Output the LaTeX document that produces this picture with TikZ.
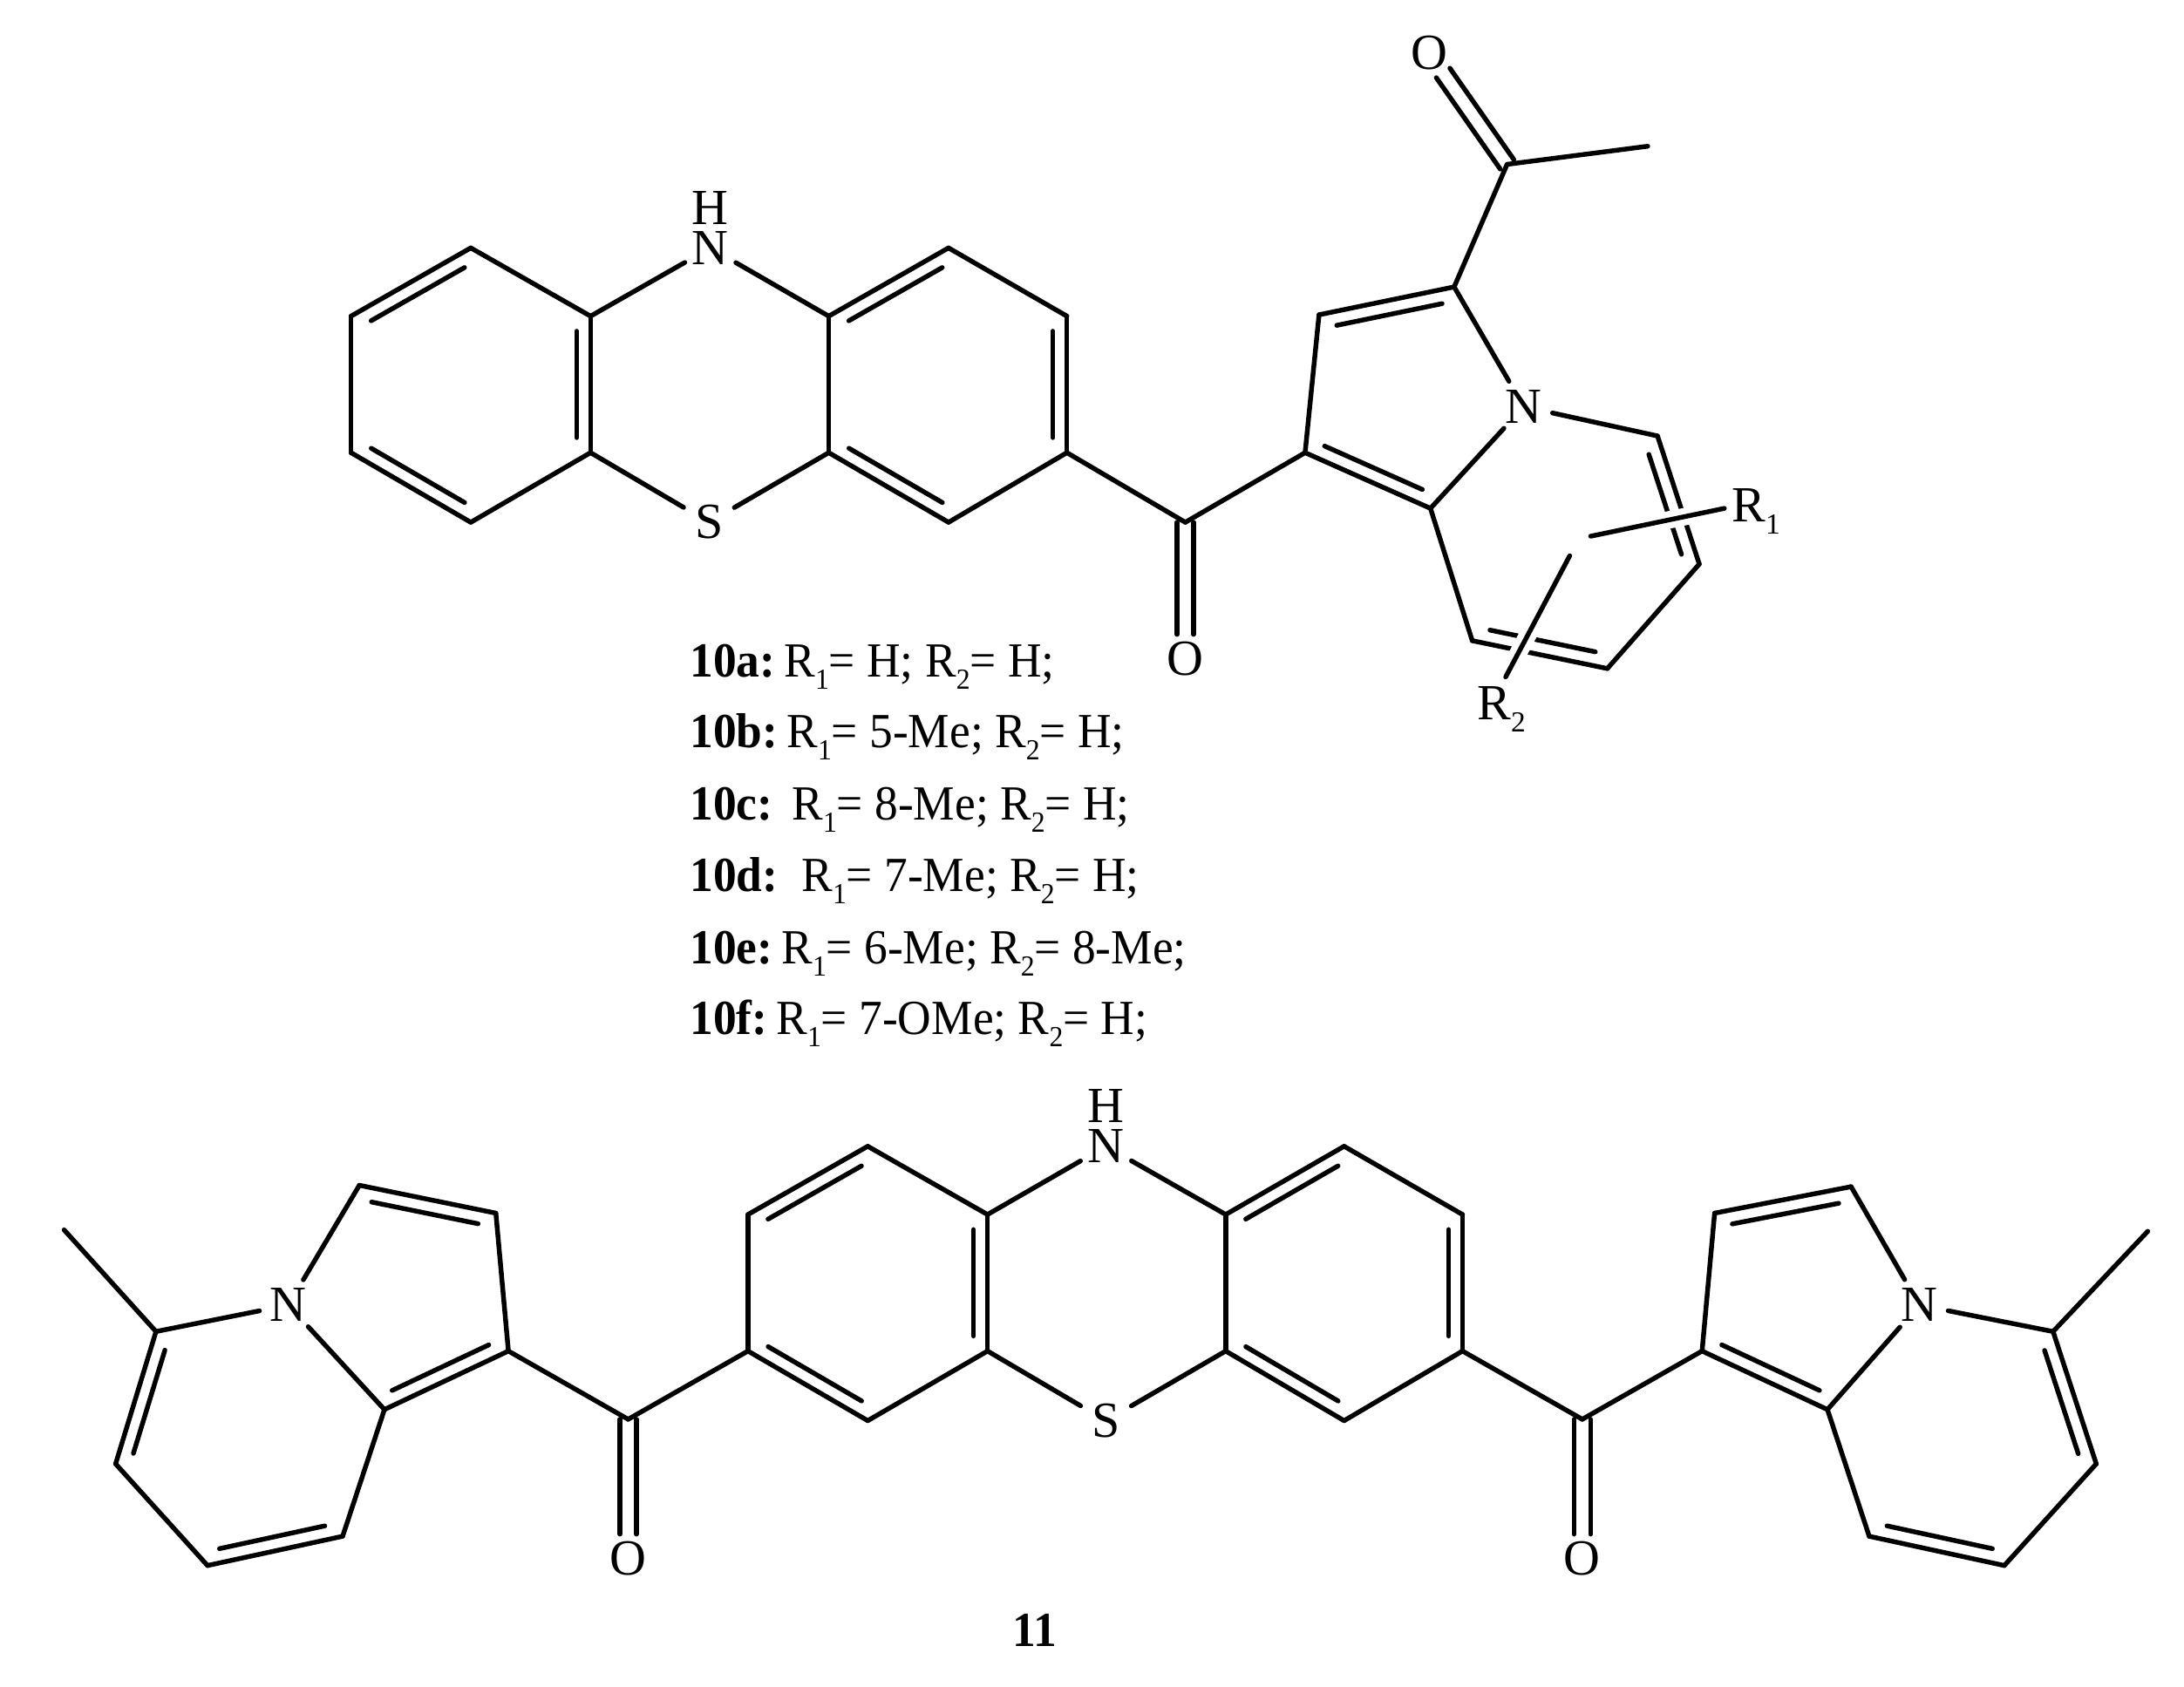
\documentclass[tikz,border=0pt]{standalone}
\usepackage{fontspec}
\setmainfont{Liberation Serif}[FakeStretch=0.95]
\newfontfamily\atomfont{Liberation Serif}
\usetikzlibrary{calc}
\tikzset{
  bond/.style={line width=1.55pt,line cap=round,line join=round,black},
  atom/.style={circle,inner sep=0pt,minimum size=0.66cm,font=\atomfont\fontsize{16.5}{19}\selectfont},
  plain/.style={inner sep=0pt,font=\atomfont\fontsize{16.5}{19}\selectfont},
  entry/.style={anchor=base west,inner sep=0pt,font=\fontsize{16}{19}\selectfont},
}
\newcommand{\rsub}[1]{\raisebox{-0.14cm}{\fontsize{9.5}{11}\selectfont #1}}
\newcommand{\sbond}[2]{\draw[bond] (#1) -- (#2);}
\newcommand{\dbond}[2]{\draw[bond] (#1) -- (#2);
  \draw[bond] ($(#1)!.11!(#2)!0.16cm!-90:(#2)$) -- ($(#2)!.11!(#1)!0.16cm!90:(#1)$);}
\newcommand{\cobond}[2]{%
  \draw[bond,shorten >=0.28cm] ($(#1)!0.095cm!90:(#2)$) -- ($(#2)!0.095cm!-90:(#1)$);
  \draw[bond,shorten >=0.28cm] ($(#1)!0.095cm!-90:(#2)$) -- ($(#2)!0.095cm!90:(#1)$);}
\begin{document}
\begin{tikzpicture}[x=0.015976cm,y=-0.015976cm]
\useasboundingbox (0,0) rectangle (1568,1210.6);
% ---- top phenothiazine
\coordinate (a1) at (338,178);\coordinate (a2) at (424,227);\coordinate (a3) at (424,325);
\coordinate (a4) at (338,375);\coordinate (a5) at (252,325);\coordinate (a6) at (252,227);
\coordinate (b1) at (595,227);\coordinate (b2) at (681,178);\coordinate (b3) at (766,227);
\coordinate (b4) at (766,325);\coordinate (b5) at (681,375);\coordinate (b6) at (595,325);
\node[atom] (NT) at (510,178) {N};
\node[plain] (HT) at (510,149) {H};
\node[atom] (ST) at (509,375) {S};
\dbond{a6}{a1}\sbond{a1}{a2}\dbond{a2}{a3}\sbond{a3}{a4}\dbond{a4}{a5}\sbond{a5}{a6}
\dbond{b1}{b2}\sbond{b2}{b3}\dbond{b3}{b4}\sbond{b4}{b5}\dbond{b5}{b6}\sbond{b6}{b1}
\sbond{a2}{NT}\sbond{NT}{b1}\sbond{a3}{ST}\sbond{ST}{b6}
% carbonyl and indolizine
\coordinate (c0) at (851,375);
\node[atom] (OT) at (851,473) {O};
\cobond{c0}{OT}
\coordinate (p1) at (947,226);\coordinate (p2) at (1044,206);\coordinate (p4) at (1027,365);\coordinate (p5) at (937,325);
\node[atom] (NP) at (1094,292) {N};
\coordinate (q1) at (1190,313);\coordinate (q2) at (1220,405);\coordinate (q3) at (1154,480);\coordinate (q4) at (1057,460);
\sbond{b4}{c0}\sbond{c0}{p5}
\dbond{p1}{p2}\sbond{p2}{NP}\sbond{NP}{p4}\dbond{p4}{p5}\sbond{p5}{p1}
\sbond{NP}{q1}\dbond{q1}{q2}\sbond{q2}{q3}\dbond{q3}{q4}\sbond{q4}{p4}
% acetyl
\coordinate (k0) at (1082,118);\coordinate (k2) at (1183,105);
\node[atom] (OK) at (1026,38) {O};
\sbond{p2}{k0}\sbond{k0}{k2}\cobond{k0}{OK}
% substituents
\node[plain,anchor=west] (R1) at (1243,367) {R\rsub{1}};
\node[plain] (R2) at (1078,509) {R\rsub{2}};
\coordinate (r1) at (1142,385);\coordinate (r1e) at (1238,365);
\coordinate (r2) at (1127,399);\coordinate (r2e) at (1081,486);
\draw[white,line width=0.2cm] (r1) -- (r1e);
\draw[white,line width=0.2cm] (r2) -- (r2e);
\sbond{r1}{r1e}\sbond{r2}{r2e}
% ---- list
\node[entry] (l1) at (495,486) {\textbf{10a:}\hspace{0.1cm}R\rsub{1}= H; R\rsub{2}= H;};
\node[entry] (l2) at (495,537) {\textbf{10b:}\hspace{0.1cm}R\rsub{1}= 5-Me; R\rsub{2}= H;};
\node[entry] (l3) at (495,589) {\textbf{10c:}\hspace{0.22cm}R\rsub{1}= 8-Me; R\rsub{2}= H;};
\node[entry] (l4) at (495,640) {\textbf{10d:}\hspace{0.27cm}R\rsub{1}= 7-Me; R\rsub{2}= H;};
\node[entry] (l5) at (495,692) {\textbf{10e:}\hspace{0.1cm}R\rsub{1}= 6-Me; R\rsub{2}= 8-Me;};
\node[entry] (l6) at (495,743) {\textbf{10f:}\hspace{0.1cm}R\rsub{1}= 7-OMe; R\rsub{2}= H;};
% ---- bottom phenothiazine
\coordinate (d1) at (623,823);\coordinate (d2) at (709,872);\coordinate (d3) at (709,970);
\coordinate (d4) at (623,1020);\coordinate (d5) at (537,970);\coordinate (d6) at (537,872);
\coordinate (e1) at (880,872);\coordinate (e2) at (965,823);\coordinate (e3) at (1050,872);
\coordinate (e4) at (1050,970);\coordinate (e5) at (965,1020);\coordinate (e6) at (880,970);
\node[atom] (NB) at (794,823) {N};
\node[plain] (HB) at (794,794) {H};
\node[atom] (SB) at (794,1020) {S};
\dbond{d6}{d1}\sbond{d1}{d2}\dbond{d2}{d3}\sbond{d3}{d4}\dbond{d4}{d5}\sbond{d5}{d6}
\dbond{e1}{e2}\sbond{e2}{e3}\dbond{e3}{e4}\sbond{e4}{e5}\dbond{e5}{e6}\sbond{e6}{e1}
\sbond{d2}{NB}\sbond{NB}{e1}\sbond{d3}{SB}\sbond{SB}{e6}
% left carbonyl
\coordinate (f0) at (451,1019);
\node[atom] (OL) at (451,1119) {O};
\cobond{f0}{OL}\sbond{d5}{f0}
% left indolizine
\node[atom] (NL) at (207,937) {N};
\coordinate (g1) at (258,851);\coordinate (g2) at (356,871);\coordinate (g3) at (365,970);\coordinate (g4) at (276,1012);
\coordinate (h1) at (246,1103);\coordinate (h2) at (149,1124);\coordinate (h3) at (83,1051);\coordinate (h4) at (112,956);
\coordinate (h5) at (46,883);
\sbond{f0}{g3}
\sbond{NL}{g1}\dbond{g1}{g2}\sbond{g2}{g3}\dbond{g3}{g4}\sbond{g4}{NL}
\sbond{g4}{h1}\dbond{h1}{h2}\sbond{h2}{h3}\dbond{h3}{h4}\sbond{h4}{NL}\sbond{h4}{h5}
% right carbonyl
\coordinate (m0) at (1136,1019);
\node[atom] (OR) at (1136,1119) {O};
\cobond{m0}{OR}\sbond{e4}{m0}
% right indolizine
\node[atom] (NR) at (1378,937) {N};
\coordinate (i1) at (1329,852);\coordinate (i2) at (1231,871);\coordinate (i3) at (1222,970);\coordinate (i4) at (1312,1012);
\coordinate (j1) at (1342,1103);\coordinate (j2) at (1439,1124);\coordinate (j3) at (1505,1051);\coordinate (j4) at (1474,956);
\coordinate (j5) at (1542,884);
\sbond{m0}{i3}
\sbond{NR}{i4}\dbond{i4}{i3}\sbond{i3}{i2}\dbond{i2}{i1}\sbond{i1}{NR}
\sbond{i4}{j1}\dbond{j2}{j1}\sbond{j2}{j3}\dbond{j4}{j3}\sbond{j4}{NR}\sbond{j4}{j5}
% label
\node[plain,anchor=base,font=\bfseries\fontsize{16}{19}\selectfont] (n11) at (743,1182) {11};
\end{tikzpicture}
\end{document}
